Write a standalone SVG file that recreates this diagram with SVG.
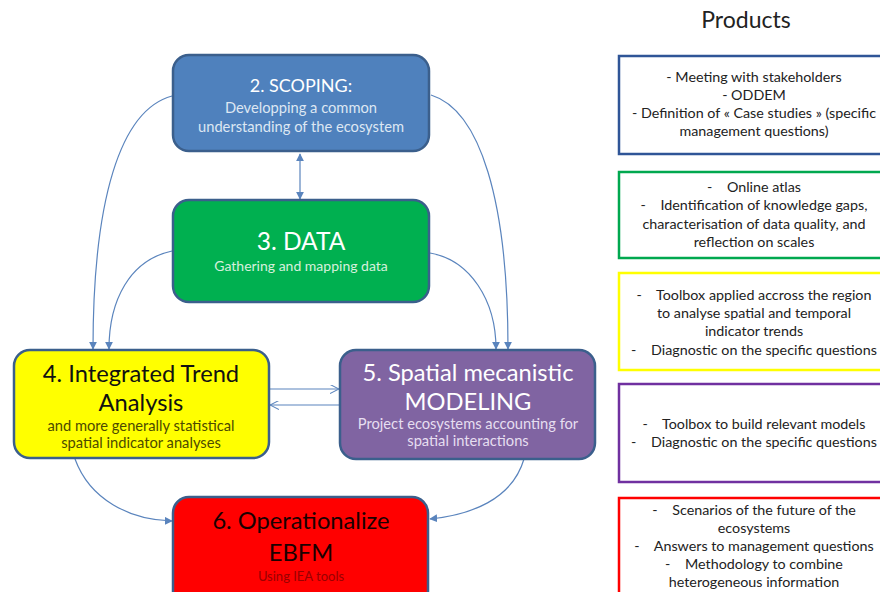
<svg xmlns="http://www.w3.org/2000/svg" width="880" height="592" viewBox="0 0 880 592">
<defs>
<style>
text{font-family:Lato,"Liberation Sans",sans-serif;text-anchor:middle}
.box{stroke:#3b5f8c;stroke-width:2.5}
.ttl{font-size:23.7px}
.sub{font-size:14.7px}
.prod{fill:#fff;stroke-width:2.5}
.pt{font-size:14.3px;fill:#222}
.con{fill:none;stroke:#5a84bd;stroke-width:1.2}
</style>
<marker id="tri" viewBox="0 0 10 10" refX="9" refY="5" markerWidth="8" markerHeight="8" markerUnits="userSpaceOnUse" orient="auto-start-reverse">
<path d="M0,0 L10,5 L0,10 z" fill="#5a84bd"/>
</marker>
<marker id="chev" viewBox="0 0 10 10" refX="10" refY="5" markerWidth="9" markerHeight="9" markerUnits="userSpaceOnUse" orient="auto">
<path d="M0,0 L10,5 L0,10" fill="none" stroke="#5a84bd" stroke-width="1.2"/>
</marker>
</defs>
<rect width="880" height="592" fill="#fff"/>

<g id="connectors">
<path class="con" d="M172,96 C120,110 93,200 93,349" marker-end="url(#tri)"/>
<path class="con" d="M172,251 C130,260 109,300 109,349" marker-end="url(#tri)"/>
<path class="con" d="M431,95 C480,110 508,200 508,349" marker-end="url(#tri)"/>
<path class="con" d="M430,253 C470,260 496,300 496,349" marker-end="url(#tri)"/>
<path class="con" d="M300,154 L300,199" marker-start="url(#tri)" marker-end="url(#tri)"/>
<path class="con" d="M269,389 L339,389" marker-end="url(#chev)"/>
<path class="con" d="M339,405 L270,405" marker-end="url(#chev)"/>
<path class="con" d="M75,459 C90,500 130,520 172,521" marker-end="url(#tri)"/>
<path class="con" d="M524,459 C512,500 470,515 430,519" marker-end="url(#tri)"/>
</g>

<g id="n2">
<rect class="box" x="173" y="55" width="256" height="96" rx="16" fill="#4f81bd"/>
<text x="301" y="92" fill="#fff" font-size="18">2. SCOPING:</text>
<text class="sub" x="301" y="113" fill="#dde7f3">Developping a common</text>
<text class="sub" x="301" y="132" fill="#dde7f3">understanding of the ecosystem</text>
</g>

<g id="n3">
<rect class="box" x="173" y="200" width="256" height="102" rx="16" fill="#00b050"/>
<text x="301" y="250" fill="#fff" font-size="24.5">3. DATA</text>
<text x="301" y="271" fill="#d6f0dd" font-size="14">Gathering and mapping data</text>
</g>

<g id="n4">
<rect class="box" x="14" y="350" width="255" height="108" rx="16" fill="#ffff00"/>
<text class="ttl" x="141" y="382" fill="#111">4. Integrated Trend</text>
<text class="ttl" x="141" y="411" fill="#111">Analysis</text>
<text class="sub" x="141" y="431" fill="#4d4a00">and more generally statistical</text>
<text class="sub" x="141" y="448" fill="#4d4a00">spatial indicator analyses</text>
</g>

<g id="n5">
<rect class="box" x="340" y="350" width="255" height="109" rx="16" fill="#8064a2"/>
<text class="ttl" x="468" y="381" fill="#fff" font-size="24.3">5. Spatial mecanistic</text>
<text class="ttl" x="468" y="410" fill="#fff" font-size="24.3">MODELING</text>
<text class="sub" x="468" y="429" fill="#e6def0">Project ecosystems accounting for</text>
<text class="sub" x="468" y="446" fill="#e6def0">spatial interactions</text>
</g>

<g id="n6">
<rect class="box" x="173" y="497" width="255" height="110" rx="16" fill="#ff0000"/>
<text class="ttl" x="301" y="529" fill="#1a0000" font-size="24.5">6. Operationalize</text>
<text class="ttl" x="301" y="561" fill="#1a0000" font-size="24.5">EBFM</text>
<text x="301" y="581" fill="#990000" font-size="13">Using IEA tools</text>
</g>

<g id="products">
<text x="746" y="28" font-size="23" fill="#222">Products</text>
</g>

<g id="p1">
<rect class="prod" x="619" y="56" width="270" height="98" stroke="#2f5597"/>
<text class="pt" x="754" y="82">- Meeting with stakeholders</text>
<text class="pt" x="754" y="100">- ODDEM</text>
<text class="pt" x="754" y="118">- Definition of « Case studies » (specific</text>
<text class="pt" x="754" y="136">management questions)</text>
</g>

<g id="p2">
<rect class="prod" x="619" y="172" width="270" height="86" stroke="#00a84f"/>
<text class="pt" x="754" y="192" xml:space="preserve">-    Online atlas</text>
<text class="pt" x="754" y="210" xml:space="preserve">-    Identification of knowledge gaps,</text>
<text class="pt" x="754" y="229">characterisation of data quality, and</text>
<text class="pt" x="754" y="247">reflection on scales</text>
</g>

<g id="p3">
<rect class="prod" x="619" y="273" width="270" height="97" stroke="#ffff00"/>
<text class="pt" x="754" y="300" xml:space="preserve">-    Toolbox applied accross the region</text>
<text class="pt" x="754" y="318">to analyse spatial and temporal</text>
<text class="pt" x="754" y="336">indicator trends</text>
<text class="pt" x="754" y="355" xml:space="preserve">-    Diagnostic on the specific questions</text>
</g>

<g id="p4">
<rect class="prod" x="619" y="384" width="270" height="98" stroke="#7030a0"/>
<text class="pt" x="754" y="429" xml:space="preserve">-    Toolbox to build relevant models</text>
<text class="pt" x="754" y="447" xml:space="preserve">-    Diagnostic on the specific questions</text>
</g>

<g id="p5">
<rect class="prod" x="619" y="498" width="270" height="110" stroke="#ff0000"/>
<text class="pt" x="754" y="515" xml:space="preserve">-    Scenarios of the future of the</text>
<text class="pt" x="754" y="533">ecosystems</text>
<text class="pt" x="754" y="551" xml:space="preserve">-    Answers to management questions</text>
<text class="pt" x="754" y="569" xml:space="preserve">-    Methodology to combine</text>
<text class="pt" x="754" y="587">heterogeneous information</text>
</g>
</svg>
